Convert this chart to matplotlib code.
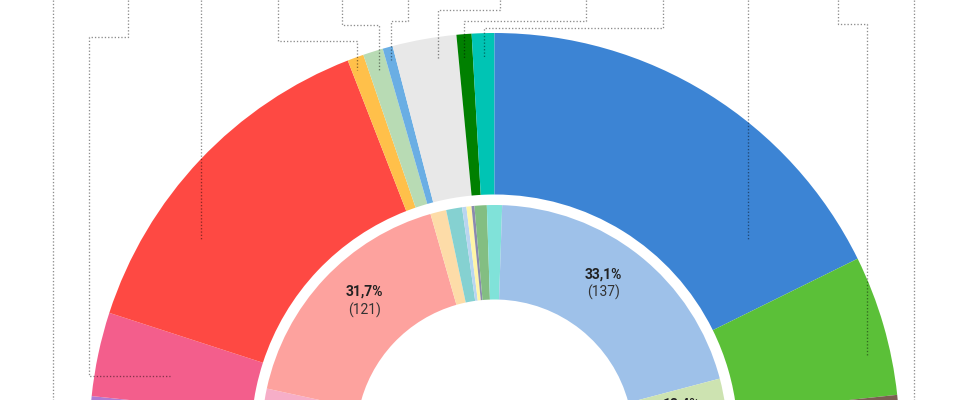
import numpy as np
import matplotlib
matplotlib.use('Agg')
import matplotlib.pyplot as plt

plt.rcParams['font.family'] = ['Roboto', 'DejaVu Sans']

# outer ring: estimate (share of the half circle, %)
outer_parties = ['Podemos', 'Sumar', 'PSOE', 'ERC', 'Bildu', 'BNG', 'Otros',
                 'PNV', 'Junts', 'PP', 'Vox', 'SALF']
outer_share = [3.3, 6.7, 28.2, 1.3, 1.6, 0.8, 5.1, 1.2, 1.8, 35.4, 11.2, 3.4]
outer_colors = ['#B07AD2', '#F35E8C', '#FE4943', '#FFC04A', '#B8DBB4', '#6AAEE4',
                '#E8E8E8', '#008000', '#00C4B4', '#3C84D4', '#5BC038', '#7B5E52']

# inner ring: 2023 result
inner_parties = ['Sumar', 'PSOE', 'ERC', 'Bildu', 'BNG', 'CC', 'UPN',
                 'PNV', 'Junts', 'PP', 'Vox']
inner_share = [6.8, 34.3, 2.2, 2.2, 0.6, 0.7, 0.4, 1.7, 2.1, 40.7, 8.2]
inner_colors = ['#F6AEC8', '#FDA29E', '#FDDCA8', '#85D1D1', '#B9D5F0', '#FFF5A8',
                '#8A8AAE', '#83BE82', '#80E2D9', '#9EC1E9', '#CDE3B1']
inner_pct = {'Sumar': '12,3%', 'PSOE': '31,7%', 'PP': '33,1%', 'Vox': '12,4%'}
inner_seats = {'Sumar': 31, 'PSOE': 121, 'PP': 137, 'Vox': 33}

fig = plt.figure(figsize=(9.8, 4), dpi=100)
ax = fig.add_axes([0, 0, 1, 1])

# centre of the half donut sits at (0, 0); units are pixels
R1, W1 = 405, 161.5
R2, W2 = 233, 94.5

ax.pie(outer_share + [sum(outer_share)], colors=outer_colors + ['none'],
       startangle=180, counterclock=False, radius=R1,
       wedgeprops=dict(width=W1, linewidth=0))
ax.pie(inner_share + [sum(inner_share)], colors=inner_colors + ['none'],
       startangle=180, counterclock=False, radius=R2,
       wedgeprops=dict(width=W2, linewidth=0))

# labels on the inner ring (big ones sit a bit nearer the top)
nudge = {'PSOE': -3.4, 'PP': 3.4}
cum = np.cumsum([0] + inner_share)
tot = sum(inner_share)
for i, p in enumerate(inner_parties):
    if p not in inner_pct:
        continue
    mid = 180 - (cum[i] + cum[i + 1]) / 2 / tot * 180 + nudge.get(p, 0)
    r = R2 - W2 / 2 + 3
    x, y = r * np.cos(np.radians(mid)), r * np.sin(np.radians(mid))
    ax.text(x, y + 9, inner_pct[p], ha='center', va='center',
            fontsize=10, fontweight='bold', color='#222222')
    ax.text(x, y - 9, '(%d)' % inner_seats[p], ha='center', va='center',
            fontsize=10, color='#333333')

# leader lines from outer segments up to the labels (above the crop)
cx, cy = 494.5, 438
leaders = {
    'Podemos': [(53, 0), (53, 420), (110, 420)],
    'Sumar': [(128, 0), (128, 37), (89, 37), (89, 376), (170, 376)],
    'PSOE': [(201, 0), (201, 240)],
    'ERC': [(278, 0), (278, 41), (357, 41), (357, 70)],
    'Bildu': [(342, 0), (342, 25), (379, 25), (379, 70)],
    'BNG': [(408, 0), (408, 21), (391, 21), (391, 60)],
    'Otros': [(500, 0), (500, 10), (438, 10), (438, 60)],
    'PNV': [(586, 0), (586, 20.5), (464, 20.5), (464, 58)],
    'Junts': [(663, 0), (663, 28), (484, 28), (484, 58)],
    'PP': [(748, 0), (748, 240)],
    'Vox': [(838, 0), (838, 24), (867, 24), (867, 355)],
    'SALF': [(914, 0), (914, 420), (880, 420)],
}
for p in outer_parties:
    pts = np.array(leaders[p], dtype=float)
    ax.plot(pts[:, 0] - cx, cy - pts[:, 1], color='black', alpha=0.45,
            lw=0.95, ls=(0, (1, 1.5)), solid_capstyle='butt')

ax.set_xlim(-cx, 980 - cx)
ax.set_ylim(cy - 400, cy)
ax.set_aspect('equal')
ax.axis('off')

fig.savefig('out.png', dpi=100, facecolor='white')
